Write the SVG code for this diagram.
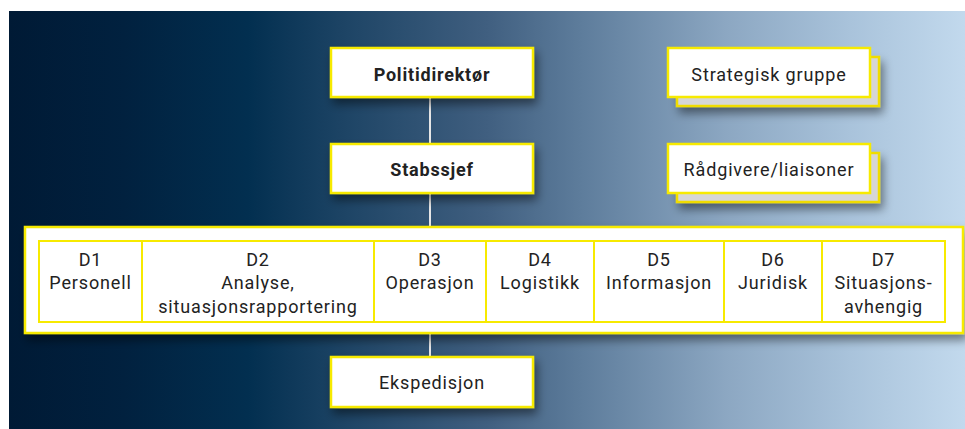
<svg xmlns="http://www.w3.org/2000/svg" width="965" height="429" viewBox="0 0 965 429">
<defs>
<linearGradient id="bg" x1="0" y1="0" x2="1" y2="0">
<stop offset="0" stop-color="#001a35"/>
<stop offset="0.12" stop-color="#01213f"/>
<stop offset="0.25" stop-color="#022f50"/>
<stop offset="0.35" stop-color="#1d4465"/>
<stop offset="0.5" stop-color="#405f80"/>
<stop offset="0.6" stop-color="#5e7d9c"/>
<stop offset="0.75" stop-color="#8ca7c2"/>
<stop offset="0.88" stop-color="#a9c3db"/>
<stop offset="1" stop-color="#c2d9ed"/>
</linearGradient>
<filter id="sh" x="-10%" y="-20%" width="125%" height="160%">
<feDropShadow dx="3" dy="6" stdDeviation="5" flood-color="#000" flood-opacity="0.45"/>
</filter>
<style>
.box{fill:#fff;stroke:#f7ea00;stroke-width:2.5}
.back{fill:#d6d6d6;stroke:#f0dc00;stroke-width:2.5}
.cell{fill:#fff;stroke:#f7ea00;stroke-width:2}
.t{font-family:Roboto,"Liberation Sans",sans-serif;font-size:18px;letter-spacing:0.85px;fill:#222;text-anchor:middle}
.b{font-weight:bold;letter-spacing:0.8px}
.con{stroke:#e6e6e6;stroke-width:2;fill:none}
</style>
</defs>
<rect x="9" y="11" width="956" height="418" fill="url(#bg)"/>
<g id="connectors">
<line class="con" x1="430" y1="97" x2="430" y2="144"/>
<line class="con" x1="430" y1="193" x2="430" y2="227"/>
<line class="con" x1="430" y1="333" x2="430" y2="357"/>
</g>
<g id="politidirektor">
<rect class="box" x="331" y="48" width="202" height="49" filter="url(#sh)"/>
<text class="t b" x="432" y="81">Politidirektør</text>
</g>
<g id="stabssjef">
<rect class="box" x="331" y="144" width="202" height="49" filter="url(#sh)"/>
<text class="t b" x="432" y="176">Stabssjef</text>
</g>
<g id="strategisk">
<rect class="back" x="677" y="57" width="202" height="49" filter="url(#sh)"/>
<rect class="box" x="668" y="48" width="202" height="49"/>
<text class="t" x="769" y="81">Strategisk gruppe</text>
</g>
<g id="radgivere">
<rect class="back" x="677" y="153" width="202" height="49" filter="url(#sh)"/>
<rect class="box" x="668" y="144" width="202" height="49"/>
<text class="t" x="769" y="176">Rådgivere/liaisoner</text>
</g>
<g id="staff">
<rect class="box" x="25" y="227" width="938" height="106" filter="url(#sh)"/>
<g id="d1"><rect class="cell" x="39" y="241" width="103" height="81"/>
<text class="t" x="90.5" y="266">D1</text><text class="t" x="90.5" y="289">Personell</text></g>
<g id="d2"><rect class="cell" x="142" y="241" width="232" height="81"/>
<text class="t" x="258" y="266">D2</text><text class="t" x="258" y="289">Analyse,</text><text class="t" x="258" y="313">situasjonsrapportering</text></g>
<g id="d3"><rect class="cell" x="374" y="241" width="112" height="81"/>
<text class="t" x="430" y="266">D3</text><text class="t" x="430" y="289">Operasjon</text></g>
<g id="d4"><rect class="cell" x="486" y="241" width="108" height="81"/>
<text class="t" x="540" y="266">D4</text><text class="t" x="540" y="289">Logistikk</text></g>
<g id="d5"><rect class="cell" x="594" y="241" width="130" height="81"/>
<text class="t" x="659" y="266">D5</text><text class="t" x="659" y="289">Informasjon</text></g>
<g id="d6"><rect class="cell" x="724" y="241" width="98" height="81"/>
<text class="t" x="773" y="266">D6</text><text class="t" x="773" y="289">Juridisk</text></g>
<g id="d7"><rect class="cell" x="822" y="241" width="123" height="81"/>
<text class="t" x="883.5" y="266">D7</text><text class="t" x="883.5" y="289">Situasjons-</text><text class="t" x="883.5" y="313">avhengig</text></g>
</g>
<g id="ekspedisjon">
<rect class="box" x="331" y="357" width="202" height="50" filter="url(#sh)"/>
<text class="t" x="432" y="389">Ekspedisjon</text>
</g>
</svg>
